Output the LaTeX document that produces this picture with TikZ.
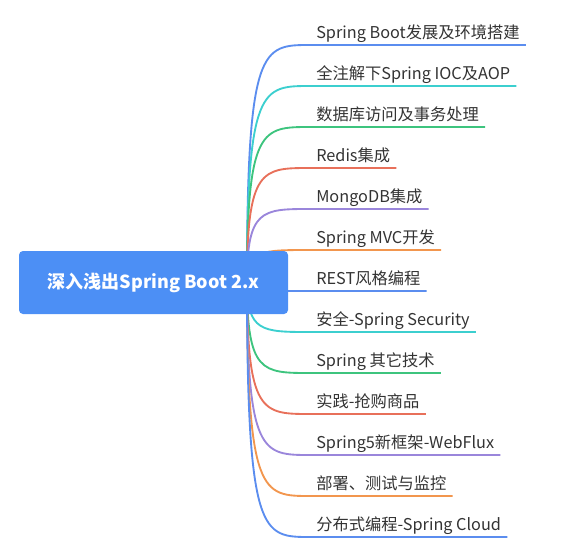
\documentclass[tikz,border=0pt]{standalone}
\usepackage{fontspec}
\setmainfont{Noto Sans CJK SC}
\usetikzlibrary{calc}

\definecolor{rootblue}{HTML}{4C8FF5}
\definecolor{mapblue}{HTML}{5B8DEF}
\definecolor{mapcyan}{HTML}{3CCFCF}
\definecolor{mapgreen}{HTML}{3DC47E}
\definecolor{mapred}{HTML}{E8705A}
\definecolor{mappurple}{HTML}{9A86DB}
\definecolor{maporange}{HTML}{F2964E}
\definecolor{topictext}{HTML}{333333}

\begin{document}
\begin{tikzpicture}[
    x=0.75pt, y=-0.75pt,
    rootbox/.style={fill=rootblue, rounded corners=3pt, text=white, font=\fontsize{13.5}{16}\selectfont\bfseries, minimum width=201.75pt, minimum height=47.25pt},
    topic/.style={anchor=south west, font=\fontsize{12.2}{14}\selectfont, text=topictext, inner xsep=4.5pt, inner ysep=4.5pt, text depth=0pt},
    branch/.style={line width=1.4pt}
]
\useasboundingbox (0,0) rectangle (576,554);

% Hub behind the root box
\coordinate (hub) at (247,282);

% Topics and branches
\foreach \i/\y/\col/\txt in {
    1/45/mapblue/Spring Boot发展及环境搭建,
    2/86/mapcyan/全注解下Spring IOC及AOP,
    3/127/mapgreen/数据库访问及事务处理,
    4/168/mapred/Redis集成,
    5/209/mappurple/MongoDB集成,
    6/250/maporange/Spring MVC开发,
    7/291/mapblue/REST风格编程,
    8/332/mapcyan/安全-Spring Security,
    9/373/mapgreen/Spring 其它技术,
    10/414/mapred/实践-抢购商品,
    11/455/mappurple/Spring5新框架-WebFlux,
    12/496/maporange/部署、测试与监控,
    13/537/mapblue/分布式编程-Spring Cloud} {
    \node[topic] (t\i) at (310,\y) {\txt};
    \draw[branch, \col] (hub) .. controls (hub |- t\i.south west) and ($(hub |- t\i.south west)+(15,0)$) .. (t\i.south west) -- (t\i.south east);
}

% Root
\node[rootbox] (root) at (153.5,282.5) {深入浅出Spring Boot 2.x};

\end{tikzpicture}
\end{document}
